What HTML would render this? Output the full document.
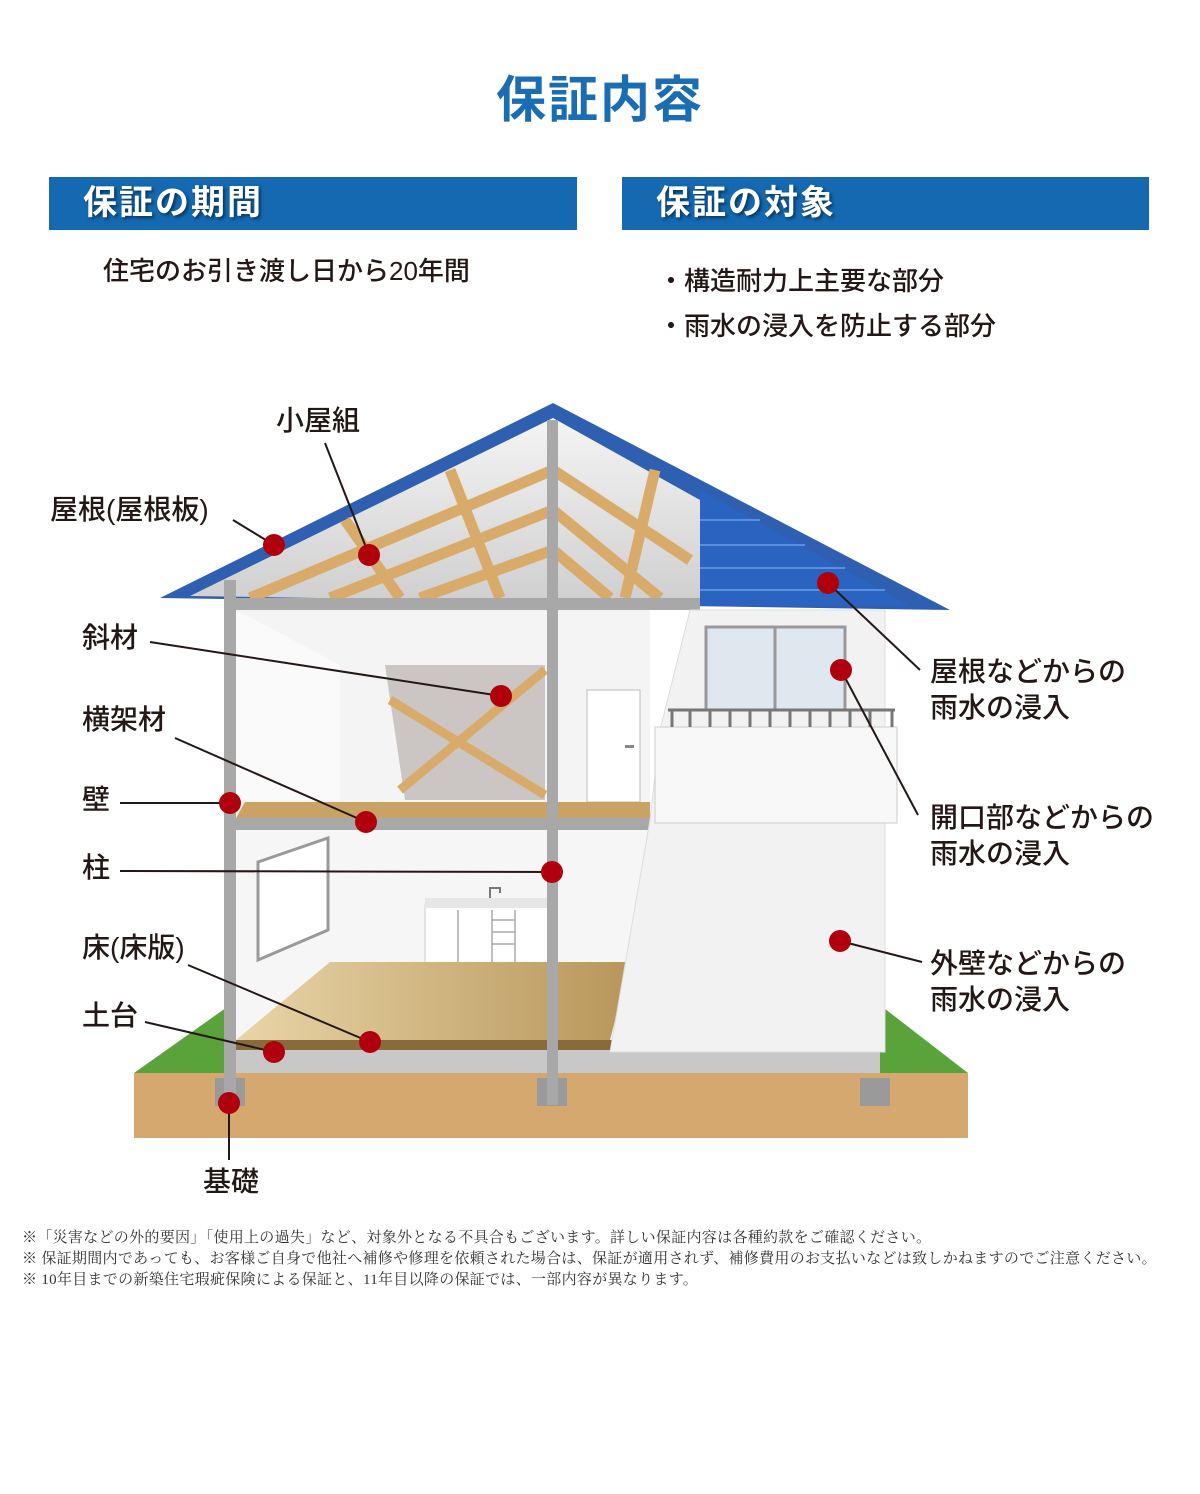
<!DOCTYPE html>
<html><head><meta charset="utf-8">
<style>
html,body{margin:0;padding:0;background:#fff;}
body{width:1200px;height:1494px;position:relative;overflow:hidden;font-family:"Liberation Sans","Noto Sans CJK JP",sans-serif;color:#231815;}
.t{position:absolute;white-space:nowrap;}
.title{left:0;width:1200px;text-align:center;top:60px;font-size:50px;font-weight:bold;color:#1a6db3;letter-spacing:2px;}
.bar{position:absolute;top:177px;height:53px;background:#1469b0;color:#fff;font-size:34px;font-weight:bold;line-height:53px;text-shadow:2px 2px 3px rgba(0,0,0,.5);letter-spacing:2px;}
.lab{font-size:28px;line-height:36px;font-weight:500;}
.note{font-family:"Liberation Serif","Noto Serif CJK SC",serif;font-size:15px;letter-spacing:0.3px;color:#333;}
</style></head><body>
<div class="t title">保証内容</div>
<div class="bar" style="left:49px;width:528px;padding-left:34px;box-sizing:border-box;">保証の期間</div>
<div class="bar" style="left:622px;width:527px;padding-left:34px;box-sizing:border-box;">保証の対象</div>
<div class="t" style="left:103px;top:251px;font-size:26px;font-weight:500;">住宅のお引き渡し日から20年間</div>
<div class="t" style="left:658px;top:261px;font-size:26px;font-weight:500;">・構造耐力上主要な部分</div>
<div class="t" style="left:658px;top:306px;font-size:26px;font-weight:500;">・雨水の浸入を防止する部分</div>

<svg style="position:absolute;left:0;top:0" width="1200" height="1494">
<defs>
<linearGradient id="fl" x1="0" x2="1"><stop offset="0" stop-color="#e8d5a8"/><stop offset="1" stop-color="#b8965a"/></linearGradient>
<linearGradient id="ri" x1="0" y1="0" x2="0" y2="1"><stop offset="0" stop-color="#f4f4f4"/><stop offset="1" stop-color="#cfcfcf"/></linearGradient>
</defs>
<polygon points="134,1073 230,1005 236,1073" fill="#5aa33a"/>
<polygon points="880,1005 968,1073 870,1073" fill="#5aa33a"/>
<rect x="134" y="1073" width="834" height="65" fill="#d4a86e"/>
<rect x="230" y="1050" width="650" height="23" fill="#c8c8c8"/>
<rect x="215" y="1078" width="30" height="28" fill="#9a9a9a"/>
<rect x="537" y="1078" width="30" height="28" fill="#9a9a9a"/>
<rect x="860" y="1078" width="30" height="28" fill="#9a9a9a"/>
<polygon points="553,403 160,598 950,610" fill="#2f5fb0"/>
<polygon points="553,418 190,596 700,604 700,500" fill="url(#ri)"/>
<polygon points="700,490 910,606 700,606" fill="#2a64c0"/>
<g stroke="#5a8ee0" stroke-width="2"><line x1="700" y1="520" x2="760" y2="520"/><line x1="700" y1="545" x2="805" y2="545"/><line x1="700" y1="568" x2="845" y2="568"/><line x1="700" y1="590" x2="885" y2="590"/></g>
<g stroke="#d8ab6a" stroke-width="11">
<line x1="250" y1="598" x2="553" y2="470"/><line x1="330" y1="598" x2="553" y2="510"/><line x1="420" y1="598" x2="553" y2="550"/>
<line x1="553" y1="470" x2="690" y2="560"/><line x1="553" y1="510" x2="660" y2="598"/><line x1="553" y1="550" x2="610" y2="598"/>
<line x1="450" y1="470" x2="500" y2="598"/><line x1="655" y1="470" x2="625" y2="598"/><line x1="345" y1="520" x2="400" y2="598"/>
</g>
<rect x="236" y="610" width="414" height="440" fill="#f4f4f4"/>
<polygon points="236,610 340,665 340,800 236,800" fill="#fafafa"/>
<polygon points="385,665 545,665 545,800 405,800" fill="#cbc6c3"/>
<g stroke="#d8ab6a" stroke-width="9"><line x1="390" y1="700" x2="545" y2="795"/><line x1="400" y1="790" x2="545" y2="670"/></g>
<rect x="587" y="690" width="53" height="112" fill="#fff" stroke="#bbb"/>
<rect x="625" y="745" width="9" height="3" fill="#888"/>
<polygon points="236,818 245,802 650,802 650,818" fill="#c9a265"/>
<polygon points="236,830 650,830 650,1050 236,1050" fill="#f6f6f6"/>
<polygon points="258,862 328,838 328,930 258,960" fill="#fff" stroke="#999" stroke-width="3"/>
<rect x="425" y="905" width="125" height="63" fill="#fff" stroke="#ccc"/>
<rect x="425" y="898" width="125" height="10" fill="#e6e6e6"/>
<path d="M490 898 V888 H500 V893" stroke="#777" stroke-width="2" fill="none"/>
<g stroke="#aaa" stroke-width="1.5"><line x1="458" y1="910" x2="458" y2="968"/><line x1="492" y1="920" x2="515" y2="920"/><line x1="492" y1="932" x2="515" y2="932"/><line x1="492" y1="944" x2="515" y2="944"/><line x1="492" y1="910" x2="492" y2="968"/><line x1="515" y1="910" x2="515" y2="968"/></g>
<polygon points="236,1040 330,962 630,962 610,1040" fill="url(#fl)"/>
<rect x="236" y="1040" width="380" height="10" fill="#8a6a3a"/>
<rect x="224" y="580" width="12" height="525" fill="#a8a8a8"/>
<rect x="547" y="420" width="11" height="685" fill="#a8a8a8"/>
<rect x="224" y="598" width="476" height="12" fill="#a8a8a8"/>
<rect x="236" y="818" width="414" height="12" fill="#a8a8a8"/>
<polygon points="690,610 885,610 885,1052 610,1052 650,820 660,730" fill="#f2f2f2" stroke="#ddd"/>
<rect x="706" y="627" width="139" height="83" fill="#dfe8ef" stroke="#999" stroke-width="3"/>
<line x1="775" y1="627" x2="775" y2="710" stroke="#999" stroke-width="3"/>
<rect x="655" y="727" width="242" height="96" fill="#f8f8f8" stroke="#ccc"/>
<g stroke="#777" stroke-width="3" fill="none"><line x1="668" y1="710" x2="895" y2="710"/>
<line x1="672" y1="710" x2="672" y2="727"/><line x1="690" y1="710" x2="690" y2="727"/><line x1="710" y1="710" x2="710" y2="727"/><line x1="730" y1="710" x2="730" y2="727"/><line x1="750" y1="710" x2="750" y2="727"/><line x1="770" y1="710" x2="770" y2="727"/><line x1="790" y1="710" x2="790" y2="727"/><line x1="810" y1="710" x2="810" y2="727"/><line x1="830" y1="710" x2="830" y2="727"/><line x1="850" y1="710" x2="850" y2="727"/><line x1="870" y1="710" x2="870" y2="727"/><line x1="892" y1="710" x2="892" y2="727"/></g>
<g stroke="#231815" stroke-width="2">
<line x1="325" y1="443" x2="369" y2="555"/><line x1="233" y1="520" x2="274" y2="545"/>
<line x1="150" y1="642" x2="501" y2="696"/><line x1="175" y1="738" x2="366" y2="822"/>
<line x1="120" y1="803" x2="230" y2="803"/><line x1="120" y1="871" x2="552" y2="872"/>
<line x1="188" y1="965" x2="370" y2="1042"/><line x1="145" y1="1022" x2="274" y2="1052"/>
<line x1="229" y1="1103" x2="229" y2="1160"/>
<line x1="828" y1="583" x2="920" y2="670"/><line x1="841" y1="670" x2="918" y2="815"/><line x1="840" y1="941" x2="922" y2="962"/>
</g>
<g fill="#b0000e">
<circle cx="274" cy="545" r="11"/><circle cx="369" cy="555" r="11"/><circle cx="501" cy="696" r="11"/>
<circle cx="230" cy="803" r="11"/><circle cx="366" cy="822" r="11"/><circle cx="552" cy="872" r="11"/>
<circle cx="370" cy="1042" r="11"/><circle cx="274" cy="1052" r="11"/><circle cx="229" cy="1103" r="11"/>
<circle cx="828" cy="583" r="11"/><circle cx="841" cy="670" r="11"/><circle cx="840" cy="941" r="11"/>
</g>
</svg>

<div class="t lab" style="left:276px;top:403px;">小屋組</div>
<div class="t lab" style="left:50px;top:492px;">屋根(屋根板)</div>
<div class="t lab" style="left:82px;top:620px;">斜材</div>
<div class="t lab" style="left:82px;top:702px;">横架材</div>
<div class="t lab" style="left:82px;top:782px;">壁</div>
<div class="t lab" style="left:82px;top:850px;">柱</div>
<div class="t lab" style="left:82px;top:930px;">床(床版)</div>
<div class="t lab" style="left:82px;top:998px;">土台</div>
<div class="t lab" style="left:203px;top:1164px;">基礎</div>
<div class="t lab" style="left:930px;top:654px;">屋根などからの<br>雨水の浸入</div>
<div class="t lab" style="left:930px;top:800px;">開口部などからの<br>雨水の浸入</div>
<div class="t lab" style="left:930px;top:946px;">外壁などからの<br>雨水の浸入</div>

<div class="t note" style="left:22px;top:1226px;">※「災害などの外的要因」「使用上の過失」など、対象外となる不具合もございます。詳しい保証内容は各種約款をご確認ください。</div>
<div class="t note" style="left:22px;top:1247px;">※ 保証期間内であっても、お客様ご自身で他社へ補修や修理を依頼された場合は、保証が適用されず、補修費用のお支払いなどは致しかねますのでご注意ください。</div>
<div class="t note" style="left:22px;top:1268px;">※ 10年目までの新築住宅瑕疵保険による保証と、11年目以降の保証では、一部内容が異なります。</div>
</body></html>
